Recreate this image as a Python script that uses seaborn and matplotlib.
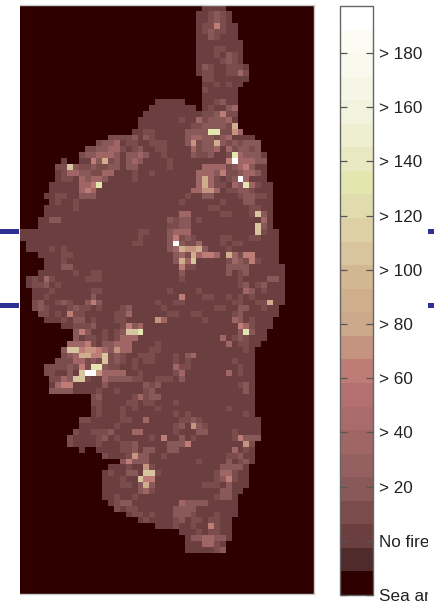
import numpy as np
import pandas as pd
import seaborn as sns
import matplotlib
matplotlib.use("Agg")
import matplotlib.pyplot as plt
from matplotlib.colors import ListedColormap
from matplotlib.patches import Rectangle
from matplotlib.transforms import Bbox, TransformedBbox, IdentityTransform

N_ROWS, N_COLS = 100, 50
SEA_VALUE = -20
NO_FIRE_VALUE = 0
VMAX = 197.3

# island outline, one entry per row (first land column, first sea column after it)
ISLAND_START = [31] + [30]*11 + [31]*4 + [23, 22, 21, 20, 20, 19, 15, 13, 11, 10, 7, 6, 6, 6, 5, 5, 4, 5, 4, 4,
                3, 3, 0, 0, 1, 1, 3, 4, 4, 3, 1, 1, 2, 2, 2, 2, 3, 4, 7, 9, 9, 8, 7, 7, 6, 4, 4, 5, 5, 5,
                12, 12, 12, 12, 10, 10, 9, 8, 8, 10, 14, 17, 15, 14, 14, 14, 14, 14, 15, 16, 18, 20, 23, 27,
                28, 28, 28] + [0]*7
ISLAND_END = [35, 36, 36, 37, 37, 37, 38, 38, 38, 38, 39, 39, 39, 38, 37, 37, 37, 37, 37, 37, 37, 38, 40, 41, 41,
              42, 42, 42, 42, 42, 43, 43, 43, 43, 43, 43, 43, 43, 44, 44, 44, 44, 44, 44, 45, 45, 45, 45, 45, 45,
              45, 44, 44, 43, 43, 42, 42, 41] + [40]*12 + [41]*4 + [40]*4 + [39]*4 + [38] + [37]*4 + [36]*4 + \
             [35, 35] + [0]*7
# bays: (row, first column, end column)
SEA_GAPS = [(16, 28, 31), (17, 30, 31), (26, 8, 10), (75, 11, 13)]

# burnt cell classes -> fire counts
CLASS_VALUES = [0, 10, 20, 36, 62, 72, 88, 105, 135, 195]
# fire counts by class: (row, first column, classes)
FIRE_RUNS = [
    (1, 32, "121"), (2, 31, "0121"), (3, 31, "1141"), (4, 31, "12110"), (5, 32, "21"), (7, 33, "11"),
    (8, 33, "1021"), (9, 34, "121"), (10, 31, "2100111"), (11, 31, "11001131"), (12, 31, "11"),
    (13, 33, "101"), (14, 31, "1"), (16, 33, "12"), (17, 32, "1002300"), (18, 31, "11241133"),
    (19, 27, "1000"), (19, 30, "312223"), (20, 29, "1122221"), (20, 36, "6"), (21, 21, "11"), (21, 28, "22"),
    (21, 30, "22"), (21, 32, "88"), (21, 34, "1153"), (22, 15, "1111"), (22, 19, "2"), (22, 21, "21"),
    (22, 28, "23322123"), (23, 13, "1223"), (23, 17, "0110"), (23, 21, "0111"), (23, 28, "2"), (23, 29, "5"),
    (23, 30, "1223"), (23, 33, "6"), (23, 34, "21212221"),
    (24, 11, "112233"), (24, 17, "1012"), (24, 23, "11"), (24, 29, "3"), (24, 30, "1"), (24, 31, "223"),
    (24, 35, "3122122"), (25, 10, "1223332"), (25, 18, "2"), (25, 19, "232"), (25, 23, "01"), (25, 29, "21"),
    (25, 31, "12"), (25, 35, "1"), (25, 36, "8"), (25, 37, "3222"), (26, 12, "4"), (26, 13, "2"), (26, 14, "6"),
    (26, 15, "12"), (26, 18, "232"), (26, 25, "1"), (26, 35, "49"), (26, 37, "333221"),
    (27, 6, "117"), (27, 9, "2112"), (27, 13, "1122"), (27, 18, "22"), (27, 25, "1"), (27, 31, "3333"),
    (27, 35, "12342"), (28, 7, "1"), (28, 8, "3322"), (28, 12, "1133"), (28, 19, "1"), (28, 22, "1"),
    (28, 30, "333"), (28, 33, "2"), (28, 34, "4"), (28, 35, "112332"), (29, 7, "11"), (29, 10, "3"),
    (29, 11, "233"), (29, 14, "2"), (29, 19, "1"), (29, 30, "3"), (29, 31, "6"), (29, 32, "3"), (29, 33, "1"),
    (29, 35, "1293"), (30, 10, "33"), (30, 12, "4"), (30, 13, "8"), (30, 30, "3"), (30, 31, "6"), (30, 32, "31"),
    (30, 34, "1"), (30, 36, "3"), (30, 37, "2"), (30, 38, "8"), (30, 39, "31"), (31, 10, "343"), (31, 29, "3"),
    (31, 30, "3553"), (31, 35, "11"), (31, 37, "22"), (31, 39, "1"), (32, 6, "11"), (32, 10, "222"),
    (32, 28, "1"), (32, 31, "22"), (32, 37, "122"), (32, 40, "11"), (33, 6, "1"), (33, 9, "1"), (33, 27, "1"),
    (33, 34, "1"), (33, 38, "22"), (34, 9, "1"), (34, 32, "11"), (34, 39, "11"), (35, 27, "33"), (35, 34, "11"),
    (35, 39, "17"), (35, 41, "2"), (36, 5, "22"), (36, 25, "2122"), (36, 30, "1"), (36, 40, "03"),
    (37, 25, "1122"), (37, 40, "7"), (37, 41, "2"), (38, 25, "2333"), (38, 20, "11"), (38, 40, "7"), (38, 41, "1"),
    (39, 20, "1"), (39, 25, "24121"), (39, 34, "11"), (39, 39, "11"), (40, 19, "11"), (40, 25, "29211"),
    (40, 30, "3"), (40, 34, "1"), (40, 36, "11"), (41, 5, "1"), (41, 7, "1"), (41, 25, "2365562"), (41, 35, "1"),
    (42, 7, "11"), (42, 26, "23163443"), (42, 35, "6"), (42, 36, "3"), (42, 37, "1"), (42, 38, "44"),
    (43, 7, "1"), (43, 26, "2637"), (43, 35, "13"), (43, 37, "2"), (43, 38, "141"), (44, 7, "22"), (44, 27, "4"),
    (44, 28, "11"), (44, 35, "2"), (44, 36, "222"), (45, 9, "1"), (45, 12, "11"), (45, 27, "2"), (45, 35, "2"),
    (45, 37, "12"), (46, 2, "1"), (46, 4, "3"), (46, 5, "1"), (46, 11, "111"), (46, 27, "1"), (46, 37, "1"),
    (46, 42, "22"), (47, 2, "1"), (47, 3, "1"), (47, 4, "2"), (47, 6, "1"), (47, 37, "12"), (47, 40, "12"),
    (48, 5, "1"), (48, 12, "11"), (48, 25, "1"), (48, 30, "1"), (48, 38, "32"), (48, 41, "1"),
    (49, 4, "1"), (49, 12, "2"), (49, 27, "4"), (49, 31, "11"), (49, 35, "1"), (49, 37, "1"), (49, 39, "1"),
    (50, 2, "12"), (50, 6, "121"), (50, 11, "2"), (50, 12, "4"), (50, 13, "2"), (50, 23, "1"), (50, 26, "11"),
    (50, 36, "11"), (50, 40, "11"), (50, 42, "6"), (51, 2, "121"), (51, 8, "1211"), (51, 13, "1"), (51, 17, "12"),
    (51, 24, "1"), (51, 33, "11"), (51, 37, "22"), (51, 41, "1"), (52, 3, "11"), (52, 6, "1"), (52, 8, "4"),
    (52, 9, "11"), (52, 16, "113"), (52, 25, "11"), (52, 29, "11"), (52, 36, "12"), (53, 7, "1"), (53, 9, "22"),
    (53, 12, "1"), (53, 16, "11"), (53, 23, "53"), (53, 31, "1"), (53, 36, "32"), (53, 39, "1"),
    (54, 9, "11"), (54, 11, "12"), (54, 17, "1"), (54, 18, "42"), (54, 20, "3"), (54, 37, "43"), (54, 39, "1"),
    (55, 9, "2"), (55, 10, "4"), (55, 11, "2"), (55, 14, "1"), (55, 16, "1"), (55, 17, "2"), (55, 18, "778"),
    (55, 37, "2"), (55, 38, "8"), (55, 39, "2"), (56, 9, "2"), (56, 11, "11"), (56, 14, "1"), (56, 16, "1"),
    (56, 17, "333"), (56, 34, "3"), (56, 36, "121"), (57, 8, "33"), (57, 10, "34"), (57, 12, "1"), (57, 14, "22"),
    (57, 16, "33"), (57, 18, "3"), (57, 23, "1"), (57, 35, "3"), (57, 37, "11"), (58, 7, "2"), (58, 8, "77"),
    (58, 10, "4554"), (58, 14, "32"), (58, 16, "5"), (58, 17, "33"), (58, 22, "11"), (58, 38, "1"),
    (59, 7, "12"), (59, 9, "3"), (59, 10, "66"), (59, 12, "44"), (59, 14, "7"), (59, 15, "1"), (59, 16, "21"),
    (59, 20, "111"), (59, 26, "1"), (59, 28, "23"), (60, 6, "111"), (60, 9, "33"), (60, 11, "121"), (60, 14, "7"),
    (60, 15, "1"), (60, 16, "21"), (60, 19, "1"), (60, 21, "11"), (60, 26, "1"), (60, 28, "1"), (60, 36, "1"),
    (61, 4, "11"), (61, 6, "11"), (61, 8, "2"), (61, 9, "1"), (61, 10, "4"), (61, 11, "1"), (61, 12, "88"),
    (61, 14, "2"), (61, 15, "11"), (61, 19, "1"), (61, 26, "3"), (61, 27, "11"), (61, 37, "1"),
    (62, 4, "11"), (62, 8, "2"), (62, 10, "7"), (62, 11, "99"), (62, 13, "5"), (62, 14, "3"), (62, 15, "333"),
    (62, 20, "1"), (62, 26, "1"), (62, 27, "3"), (62, 35, "3"), (62, 37, "1"), (63, 5, "11"), (63, 7, "3"),
    (63, 8, "2"), (63, 9, "77"), (63, 11, "1"), (63, 14, "3"), (63, 15, "2222"), (63, 19, "11"), (63, 23, "11"),
    (63, 25, "1"), (63, 27, "2"), (64, 6, "344"), (64, 14, "2"), (64, 21, "2"), (64, 22, "1"), (64, 23, "2"),
    (64, 37, "12"), (65, 5, "2222"), (65, 13, "1"), (65, 16, "1"), (65, 21, "12"), (65, 38, "2"),
    (66, 12, "12"), (66, 19, "1"), (66, 20, "3"), (66, 21, "12"), (66, 23, "2"), (67, 12, "11"), (67, 18, "11"),
    (67, 21, "11"), (67, 26, "1"), (68, 13, "1"), (68, 17, "1"), (68, 19, "1"), (68, 23, "1"), (68, 35, "1"),
    (69, 13, "1"), (69, 17, "1"), (69, 26, "1"), (69, 28, "1"), (69, 38, "1"), (70, 10, "1"), (70, 11, "1"),
    (70, 17, "11"), (70, 21, "3"), (70, 27, "11"), (70, 29, "2"), (70, 30, "1"), (71, 16, "1"), (71, 26, "12"),
    (71, 29, "5"), (71, 30, "2"), (71, 31, "1"), (72, 9, "1"), (72, 12, "1112"), (72, 19, "33"), (72, 26, "1"),
    (72, 30, "22"), (72, 36, "1"), (73, 8, "1"), (73, 13, "12"), (73, 16, "1"), (73, 22, "1"), (73, 24, "4"),
    (73, 27, "2"), (73, 29, "1"), (73, 36, "1"), (73, 37, "4222"), (74, 8, "1"), (74, 13, "1"), (74, 17, "11"),
    (74, 19, "2"), (74, 25, "22"), (74, 27, "2"), (74, 28, "4"), (74, 38, "5"), (74, 39, "1"), (75, 17, "1"),
    (75, 18, "12"), (75, 21, "22"), (75, 25, "22"), (75, 36, "3"), (75, 38, "1"), (76, 14, "1"), (76, 18, "1"),
    (76, 19, "5"), (76, 20, "22"), (76, 24, "1"), (76, 35, "1"), (76, 36, "12"), (77, 17, "2"), (77, 18, "4"),
    (77, 19, "222"), (77, 30, "1"), (77, 35, "2"), (77, 37, "12"), (78, 18, "1"), (78, 21, "5"), (78, 22, "1"),
    (78, 34, "2222"), (79, 15, "1"), (79, 18, "22"), (79, 21, "77"), (79, 23, "1"), (79, 33, "1"), (79, 34, "33"),
    (79, 36, "1"), (80, 17, "1"), (80, 20, "7"), (80, 21, "44"), (80, 33, "12"), (80, 35, "4"), (80, 36, "1"),
    (81, 17, "11"), (81, 20, "2"), (81, 21, "6"), (81, 22, "2"), (81, 31, "11"), (81, 33, "1"), (81, 35, "2"),
    (82, 20, "2"), (82, 21, "3"), (82, 22, "1"), (82, 34, "2"), (82, 35, "2"), (83, 16, "1"), (83, 19, "1"),
    (83, 33, "1"), (83, 34, "22"), (84, 16, "1"), (84, 17, "22"), (84, 27, "3"), (84, 28, "2222"),
    (85, 16, "1"), (85, 18, "11"), (85, 26, "2222"), (86, 19, "11"), (86, 22, "1"), (86, 26, "2221"),
    (86, 33, "1"), (87, 21, "1"), (87, 26, "12"), (87, 29, "11"), (87, 32, "11"), (88, 26, "1"), (88, 29, "1"),
    (88, 32, "4"), (88, 33, "1"), (89, 30, "1"), (89, 32, "11"), (90, 29, "2233"), (90, 33, "2"), (90, 34, "2"),
    (91, 31, "33"), (91, 33, "1"), (92, 33, "1"), (92, 34, "2"),
]

# colour bands of the legend, bottom to top
BAND_COLORS = ["#2f0000", "#4f2b2b", "#6b3f3f", "#7a4c4c", "#895858", "#956060", "#a06666", "#a96b6b",
               "#b47070", "#bd7c76", "#c49480", "#cba98a", "#cfae8e", "#d3b793", "#d8c5a0", "#dcd0a4",
               "#e0dcae", "#e4e6b0", "#e8e9c0", "#eeeed0", "#f2f3df", "#f6f6e6", "#f9f9ee", "#fcfcf5",
               "#ffffff"]
TICK_VALUES = [-20, 0, 20, 40, 60, 80, 100, 120, 140, 160, 180]
TICK_LABELS = ["Sea ar", "No fire", "> 20", "> 40", "> 60", "> 80", "> 100", "> 120", "> 140", "> 160", "> 180"]
MARKER_ROWS_PX = [231, 306]
MARKER_COLOR = "#2e3192"

sns.set_theme(style="ticks")
plt.rcParams["font.family"] = ["Liberation Sans", "DejaVu Sans"]

grid = np.full((N_ROWS, N_COLS), SEA_VALUE, dtype=float)
for r, (a, b) in enumerate(zip(ISLAND_START, ISLAND_END)):
    grid[r, a:b] = NO_FIRE_VALUE
for r, a, b in SEA_GAPS:
    grid[r, a:b] = SEA_VALUE
for r, c, text in FIRE_RUNS:
    for i, ch in enumerate(text):
        if ch != "0" and grid[r, c + i] != SEA_VALUE:
            grid[r, c + i] = CLASS_VALUES[int(ch)]

W, H = 435, 603
fig = plt.figure(figsize=(W / 100, H / 100), dpi=100, facecolor="white")
def px_axes(x0, y0, x1, y1):
    return fig.add_axes([x0 / W, 1 - y1 / H, (x1 - x0) / W, (y1 - y0) / H])

ax = px_axes(20, 5, 314, 594)
cax = px_axes(340, 6, 373, 595)
sns.heatmap(pd.DataFrame(grid), ax=ax, cbar_ax=cax, cmap=ListedColormap(BAND_COLORS),
            vmin=SEA_VALUE, vmax=VMAX, xticklabels=False, yticklabels=False,
            cbar_kws={"ticks": TICK_VALUES})
for name, sp in ax.spines.items():
    sp.set_visible(name != "left")
    sp.set_color("#cccccc")
    sp.set_linewidth(1)

cbar = ax.collections[0].colorbar
cbar.outline.set_visible(True)
cbar.outline.set_edgecolor("#666666")
cbar.outline.set_linewidth(1)
cax.set_yticks(TICK_VALUES)
cax.set_yticklabels(TICK_LABELS)
cax.minorticks_off()
cax.yaxis.set_ticks_position("both")
cax.tick_params(axis="y", which="major", direction="in", left=True, right=True, labelleft=False, labelright=True,
                length=5, width=0.9, color="#555555", labelsize=12.3, labelcolor="#222222", pad=4)
cax.set_axisbelow(False)
clip = TransformedBbox(Bbox([[0, 0], [428, H]]), IdentityTransform())
for lab in cax.get_yticklabels():
    lab.set_clip_box(clip)
    lab.set_clip_on(True)

for y in MARKER_ROWS_PX:
    for x0, x1 in [(0, 19), (428, 435)]:
        fig.add_artist(Rectangle((x0 / W, 1 - (y + 2.5) / H), (x1 - x0) / W, 5 / H,
                                 transform=fig.transFigure, facecolor=MARKER_COLOR, edgecolor="none"))

fig.savefig("out.png", dpi=100)
